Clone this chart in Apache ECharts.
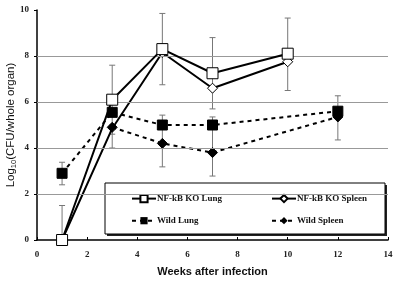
<!DOCTYPE html>
<html>
<head>
<meta charset="utf-8">
<script src="https://cdn.jsdelivr.net/npm/echarts@6/dist/echarts.min.js"></script>
<style>
  html, body { margin: 0; padding: 0; background: #fff; }
  #chart { width: 400px; height: 284px; }
</style>
</head>
<body>
<div id="chart"></div>
<script>
// weeks after infection
const koWeeks = [1, 3, 5, 7, 10]
const wildLungWeeks = [1, 3, 5, 7, 12]
const wildSpleenWeeks = [3, 5, 7, 12]

// log10 CFU values
const koLung = [0, 6.1, 8.3, 7.25, 8.1]
const koSpleen = [0, 4.85, 8.15, 6.6, 7.75]
const wildLung = [2.9, 5.55, 5.0, 5.0, 5.6]
const wildSpleen = [4.9, 4.2, 3.8, 5.35]

// error bars: [week, low, high]
const koErrors = [[1, 0, 1.5], [3, 4.6, 7.6], [5, 6.75, 9.85], [7, 5.7, 8.8], [10, 6.5, 9.65]]
const wildErrors = [[1, 2.4, 3.38], [3, 4.0, 5.0], [5, 3.18, 5.43], [7, 2.78, 5.35], [12, 4.35, 6.27]]

const yGridLines = [2, 4, 6, 8]

const pairs = (xs, ys) => xs.map((x, i) => [x, ys[i]])

const chart = echarts.init(document.getElementById('chart'))

const errorBar = (name, data) => ({
  name: name,
  type: 'custom',
  silent: true,
  z: 1,
  data: data,
  renderItem: (params, api) => {
    const top = api.coord([api.value(0), api.value(2)])
    const bot = api.coord([api.value(0), api.value(1)])
    const cap = 3
    const style = { stroke: '#777', lineWidth: 1 }
    return {
      type: 'group',
      children: [
        { type: 'line', shape: { x1: top[0], y1: top[1], x2: bot[0], y2: bot[1] }, style: style },
        { type: 'line', shape: { x1: top[0] - cap, y1: top[1], x2: top[0] + cap, y2: top[1] }, style: style },
        { type: 'line', shape: { x1: bot[0] - cap, y1: bot[1], x2: bot[0] + cap, y2: bot[1] }, style: style }
      ]
    }
  }
})

const serif = '"Liberation Serif", "Times New Roman", serif'

// the KO spleen marker at week 3 sits hidden under the wild spleen marker
const koSpleenData = pairs(koWeeks, koSpleen).map(p => p[0] === 3 ? { value: p, symbol: 'none' } : p)

const option = {
  animation: false,
  grid: { left: 37, right: 12, top: 10, bottom: 44, containLabel: false, outerBoundsMode: 'none' },
  xAxis: {
    type: 'value',
    min: 0,
    max: 14,
    interval: 2,
    name: 'Weeks after infection',
    nameLocation: 'middle',
    nameGap: 26,
    nameMoveOverlap: false,
    nameTextStyle: { fontFamily: 'Liberation Sans, Arial', fontWeight: 'bold', fontSize: 11, color: '#111' },
    axisLine: { lineStyle: { color: '#000', width: 1.5 } },
    axisTick: { inside: true, length: 3, lineStyle: { color: '#000' } },
    axisLabel: { fontFamily: serif, fontWeight: 'bold', fontSize: 9, color: '#222', margin: 10 },
    splitLine: { show: false }
  },
  yAxis: {
    type: 'value',
    min: 0,
    max: 10,
    interval: 2,
    name: '{a|Log}{s|10}{a|(CFU/whole organ)}',
    nameLocation: 'middle',
    nameGap: 19,
    nameMoveOverlap: false,
    nameTextStyle: {
      rich: {
        a: { fontFamily: 'Liberation Sans, Arial', fontSize: 11.5, color: '#111' },
        s: { fontFamily: 'Liberation Sans, Arial', fontSize: 7.5, color: '#111', padding: [6, 0, 0, 0] }
      }
    },
    axisLine: { show: true, lineStyle: { color: '#000', width: 1.5 } },
    axisTick: { show: true, length: 3, lineStyle: { color: '#000' } },
    axisLabel: { fontFamily: serif, fontWeight: 'bold', fontSize: 9, color: '#222', margin: 8 },
    splitLine: { show: false }
  },
  legend: [
    {
      left: 126, top: 189, orient: 'vertical', itemGap: 13, itemWidth: 24, itemHeight: 9,
      textStyle: { fontFamily: serif, fontWeight: 'bold', fontSize: 9, color: '#111', padding: [0, 0, 0, -4] },
      data: ['NF-kB KO Lung', 'Wild Lung']
    },
    {
      left: 266, top: 189, orient: 'vertical', itemGap: 13, itemWidth: 24, itemHeight: 9,
      textStyle: { fontFamily: serif, fontWeight: 'bold', fontSize: 9, color: '#111', padding: [0, 0, 0, -4] },
      data: ['NF-kB KO Spleen', 'Wild Spleen']
    }
  ],
  graphic: [
    { type: 'rect', z: 0, shape: { x: 107, y: 185, width: 280, height: 51 }, style: { fill: '#222' } },
    { type: 'rect', z: 1, shape: { x: 105, y: 183, width: 280, height: 51 }, style: { fill: '#fff', stroke: '#000', lineWidth: 1 } }
  ],
  series: [
    {
      name: 'grid',
      type: 'line',
      data: [],
      silent: true,
      markLine: {
        silent: true,
        symbol: 'none',
        label: { show: false },
        lineStyle: { color: '#999', type: 'solid', width: 1 },
        data: yGridLines.map(v => ({ yAxis: v }))
      }
    },
    errorBar('koErr', koErrors),
    errorBar('wildErr', wildErrors),
    {
      name: 'Wild Lung',
      type: 'line',
      z: 3,
      data: pairs(wildLungWeeks, wildLung),
      symbol: 'rect',
      symbolSize: 10,
      itemStyle: { color: '#000', borderColor: '#000' },
      lineStyle: { color: '#000', width: 2, type: [4, 4] }
    },
    {
      name: 'Wild Spleen',
      type: 'line',
      z: 3,
      data: pairs(wildSpleenWeeks, wildSpleen),
      symbol: 'diamond',
      symbolSize: 10,
      itemStyle: { color: '#000', borderColor: '#000' },
      lineStyle: { color: '#000', width: 2, type: [4, 4] }
    },
    {
      name: 'NF-kB KO Spleen',
      type: 'line',
      z: 4,
      data: koSpleenData,
      symbol: 'diamond',
      symbolSize: 10,
      showAllSymbol: true,
      itemStyle: { color: '#fff', borderColor: '#000', borderWidth: 1 },
      lineStyle: { color: '#000', width: 2 }
    },
    {
      name: 'NF-kB KO Lung',
      type: 'line',
      z: 5,
      data: pairs(koWeeks, koLung),
      symbol: 'rect',
      symbolSize: 11,
      itemStyle: { color: '#fff', borderColor: '#000', borderWidth: 1 },
      lineStyle: { color: '#000', width: 2 }
    }
  ]
}

chart.setOption(option)
</script>
</body>
</html>
